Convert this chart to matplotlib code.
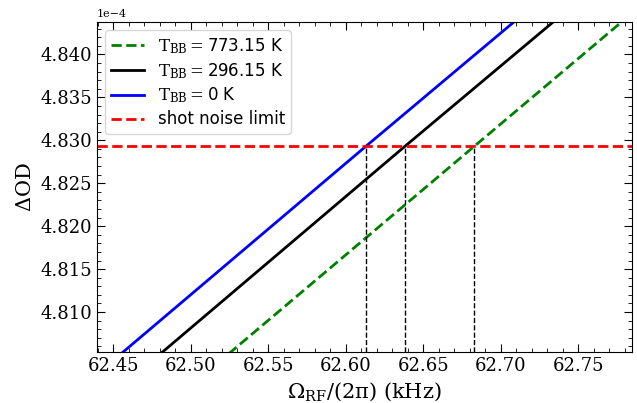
import matplotlib
matplotlib.use("Agg")
import matplotlib.pyplot as plt
from matplotlib.ticker import MultipleLocator, FuncFormatter

plt.rcParams['font.family'] = 'DejaVu Serif'
plt.rcParams['mathtext.fontset'] = 'dejavuserif'

# Data, DeltaOD in units of 1e-4
x_773 = [62.51, 62.6829, 62.79]
y_773 = [4.80292, 4.8293, 4.84562]
x_296 = [62.47, 62.6382, 62.75]
y_296 = [4.80353, 4.8293, 4.84623]
x_0 = [62.45, 62.6130, 62.72]
y_0 = [4.80436, 4.8293, 4.84553]
shot_noise = 4.8293
crossings = [62.6130, 62.6382, 62.6829]
labels = [r'$\mathrm{T_{BB}}=$773.15 K', r'$\mathrm{T_{BB}}=$296.15 K',
          r'$\mathrm{T_{BB}}=$0 K', 'shot noise limit']
scale = 1e-4

fig = plt.figure(figsize=(6.37, 4.03), dpi=100)
ax = fig.add_axes([0.152, 0.1266, 0.840, 0.8184])

ax.plot(x_773, [v * scale for v in y_773], '--', color='green', lw=2, label=labels[0])
ax.plot(x_296, [v * scale for v in y_296], '-', color='black', lw=2, label=labels[1])
ax.plot(x_0, [v * scale for v in y_0], '-', color='blue', lw=2, label=labels[2])
ax.axhline(shot_noise * scale, ls='--', color='red', lw=2, label=labels[3])

ylo, yhi = 4.80535 * scale, 4.84376 * scale
for xc in crossings:
    ax.plot([xc, xc], [ylo, shot_noise * scale], '--', color='black', lw=1)

ax.set_xlim(62.4395, 62.7846)
ax.set_ylim(ylo, yhi)

ax.xaxis.set_major_locator(MultipleLocator(0.05))
ax.xaxis.set_minor_locator(MultipleLocator(0.01))
ax.yaxis.set_major_locator(MultipleLocator(0.005e-4))
ax.yaxis.set_minor_locator(MultipleLocator(0.001e-4))
ax.tick_params(which='both', direction='in', top=True, right=True, labelsize=13)
ax.tick_params(which='major', length=6)
ax.tick_params(which='minor', length=3)

ax.yaxis.set_major_formatter(FuncFormatter(lambda v, pos: f"{v/scale:.3f}"))
ax.text(0.0, 1.01, '1e\u22124', transform=ax.transAxes, fontsize=8, ha='left', va='bottom')

ax.set_xlabel(r'$\Omega_{\mathrm{RF}}$/(2π) (kHz)', fontsize=15)
ax.set_ylabel(r'$\Delta$OD', fontsize=15)

ax.legend(loc='upper left', prop={'family': 'DejaVu Sans', 'size': 12},
          labelspacing=0.3, borderpad=0.35)

fig.savefig('out.png', dpi=100)
